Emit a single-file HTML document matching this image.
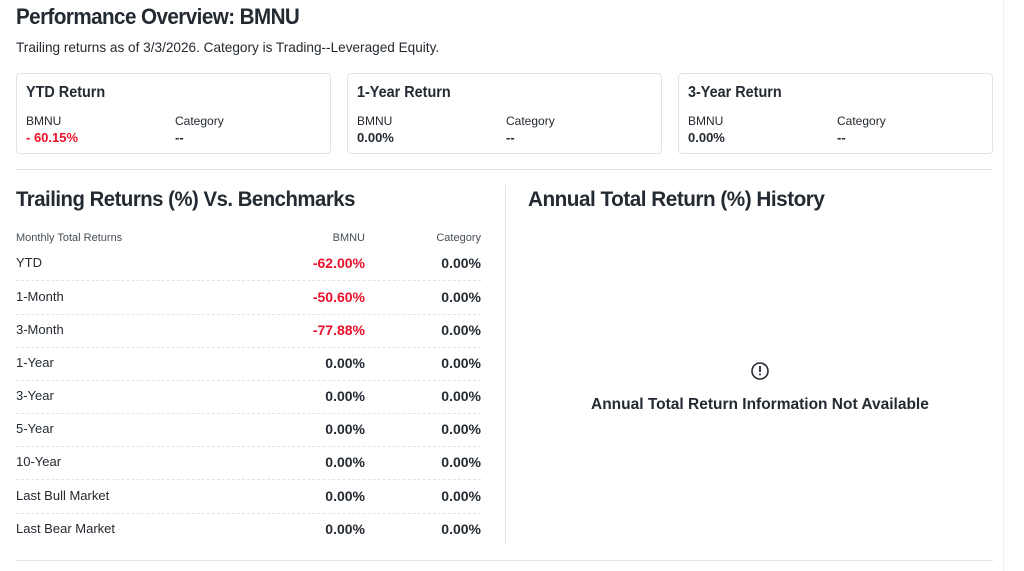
<!DOCTYPE html>
<html><head><style>
body{margin:0;width:1024px;height:571px;background:#fff;font-family:"Liberation Sans",sans-serif;color:#232a31;position:relative;overflow:hidden}
.a{position:absolute;white-space:nowrap}
h1{position:absolute;margin:0;left:16px;top:4px;font-size:22px;font-weight:bold;letter-spacing:-0.6px;transform:scaleX(0.937);transform-origin:left}
h2{position:absolute;margin:0;font-size:21px;font-weight:bold;letter-spacing:-0.5px;transform-origin:left}
.card{position:absolute;top:73px;width:313px;height:79px;border:1px solid #e0e4e9;border-radius:4px}
.card .t{position:absolute;left:9px;top:10px;font-size:16px;font-weight:bold;transform:scaleX(0.9);transform-origin:left}
.card .l{position:absolute;top:40px;font-size:12px}
.card .v{position:absolute;top:56px;font-size:13px;font-weight:bold}
.red{color:#eb0f29}
.row{position:absolute;left:16px;width:465px;height:33px;border-bottom:1px dashed #e0e4e9;font-size:13px}
.row span{position:absolute;top:8px}
.row .b{right:116px;font-weight:bold;font-size:14px}
.row .c{right:0;font-weight:bold;font-size:14px}
</style></head><body>
<div class="a" style="left:1003px;top:0;width:1px;height:571px;background:#eef0f2"></div>
<h1>Performance Overview: BMNU</h1>
<div class="a" style="left:16px;top:40px;font-size:13.6px">Trailing returns as of 3/3/2026. Category is Trading--Leveraged Equity.</div>
<div class="card" style="left:16px"><div class="t">YTD Return</div><div class="l" style="left:9px">BMNU</div><div class="l" style="left:158px">Category</div><div class="v red" style="left:9px">- 60.15%</div><div class="v" style="left:158px">--</div></div>
<div class="card" style="left:347px"><div class="t">1-Year Return</div><div class="l" style="left:9px">BMNU</div><div class="l" style="left:158px">Category</div><div class="v" style="left:9px">0.00%</div><div class="v" style="left:158px">--</div></div>
<div class="card" style="left:678px"><div class="t">3-Year Return</div><div class="l" style="left:9px">BMNU</div><div class="l" style="left:158px">Category</div><div class="v" style="left:9px">0.00%</div><div class="v" style="left:158px">--</div></div>
<div class="a" style="left:16px;top:169px;width:977px;height:1px;background:#e0e4e9"></div>
<div class="a" style="left:16px;top:560px;width:977px;height:1px;background:#e0e4e9"></div>
<div class="a" style="left:505px;top:185px;width:1px;height:360px;background:#e0e4e9"></div>
<h2 style="left:16px;top:188px;transform:scaleX(0.968)">Trailing Returns (%) Vs. Benchmarks</h2>
<h2 style="left:528px;top:188px;transform:scaleX(0.987)">Annual Total Return (%) History</h2>
<div class="a" style="left:16px;top:232px;font-size:11px;color:#464e56">Monthly Total Returns</div>
<div class="a" style="right:659px;top:232px;font-size:11px;color:#464e56">BMNU</div>
<div class="a" style="right:543px;top:232px;font-size:11px;color:#464e56">Category</div>
<div class="row" style="top:247px"><span>YTD</span><span class="b red">-62.00%</span><span class="c">0.00%</span></div>
<div class="row" style="top:281px"><span>1-Month</span><span class="b red">-50.60%</span><span class="c">0.00%</span></div>
<div class="row" style="top:314px"><span>3-Month</span><span class="b red">-77.88%</span><span class="c">0.00%</span></div>
<div class="row" style="top:347px"><span>1-Year</span><span class="b">0.00%</span><span class="c">0.00%</span></div>
<div class="row" style="top:380px"><span>3-Year</span><span class="b">0.00%</span><span class="c">0.00%</span></div>
<div class="row" style="top:413px"><span>5-Year</span><span class="b">0.00%</span><span class="c">0.00%</span></div>
<div class="row" style="top:446px"><span>10-Year</span><span class="b">0.00%</span><span class="c">0.00%</span></div>
<div class="row" style="top:480px"><span>Last Bull Market</span><span class="b">0.00%</span><span class="c">0.00%</span></div>
<div class="row" style="top:513px;border-bottom:none"><span>Last Bear Market</span><span class="b">0.00%</span><span class="c">0.00%</span></div>
<svg class="a" style="left:750px;top:361px" width="20" height="20"><circle cx="10" cy="10" r="8" fill="none" stroke="#232a31" stroke-width="1.6"/><rect x="9.1" y="5" width="1.8" height="6" fill="#232a31"/><rect x="9.1" y="12.5" width="1.8" height="1.8" fill="#232a31"/></svg>
<div class="a" style="left:591px;top:396px;font-size:15.5px;font-weight:bold">Annual Total Return Information Not Available</div>
</body></html>
